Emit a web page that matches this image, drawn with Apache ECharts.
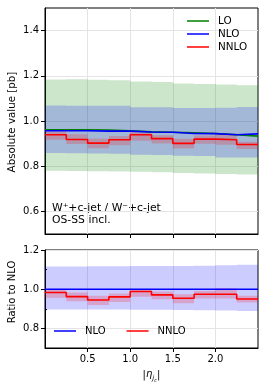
<!DOCTYPE html>
<html>
<head>
<meta charset="utf-8">
<script src="https://cdn.jsdelivr.net/npm/echarts@6/dist/echarts.min.js"></script>
<style>html,body{margin:0;padding:0;background:#fff;}#c{width:265px;height:391px;}</style>
</head>
<body>
<div id="c"></div>
<script>
// ---- data ----
const binEdges = [0, 0.25, 0.5, 0.75, 1.0, 1.25, 1.5, 1.75, 2.0, 2.25, 2.5];
const loCentral = [0.961, 0.961, 0.960, 0.957, 0.952, 0.950, 0.948, 0.945, 0.939, 0.933];
const loUp      = [1.184, 1.185, 1.182, 1.180, 1.175, 1.173, 1.166, 1.164, 1.161, 1.158];
const loDown    = [0.780, 0.779, 0.778, 0.777, 0.775, 0.773, 0.770, 0.768, 0.766, 0.763];
const nloCentral = [0.957, 0.957, 0.955, 0.955, 0.951, 0.950, 0.945, 0.944, 0.939, 0.943];
const nloUp      = [1.069, 1.068, 1.067, 1.067, 1.061, 1.061, 1.058, 1.058, 1.059, 1.062];
const nloDown    = [0.858, 0.857, 0.856, 0.855, 0.851, 0.850, 0.846, 0.845, 0.839, 0.838];
const nnloCentral = [0.939, 0.918, 0.902, 0.917, 0.939, 0.922, 0.901, 0.920, 0.917, 0.896];
const nnloUp      = [0.954, 0.941, 0.923, 0.934, 0.950, 0.937, 0.921, 0.936, 0.945, 0.908];
const nnloDown    = [0.917, 0.898, 0.879, 0.893, 0.913, 0.900, 0.878, 0.899, 0.895, 0.876];
const ratioNLO     = [1, 1, 1, 1, 1, 1, 1, 1, 1, 1];
const ratioNLOUp   = [1.116, 1.116, 1.117, 1.117, 1.118, 1.118, 1.119, 1.120, 1.122, 1.125];
const ratioNLODown = [0.897, 0.897, 0.896, 0.896, 0.895, 0.895, 0.894, 0.893, 0.891, 0.889];
const ratioNNLO     = [0.983, 0.962, 0.945, 0.961, 0.988, 0.971, 0.954, 0.974, 0.974, 0.950];
const ratioNNLOUp   = [0.996, 0.983, 0.966, 0.978, 1.000, 0.988, 0.974, 0.991, 1.005, 0.966];
const ratioNNLODown = [0.957, 0.938, 0.920, 0.935, 0.961, 0.949, 0.928, 0.952, 0.952, 0.932];
const topYTicks = [0.6, 0.8, 1.0, 1.2, 1.4];
const ratioYTicks = [0.8, 1.0, 1.2];
const ratioYMinor = [0.9, 1.1];
const xTicks = [0.5, 1.0, 1.5, 2.0];
const annotation = ['W\u207A+c-jet / W\u207B+c-jet', 'OS-SS incl.'];
const topYTitle = 'Absolute value [pb]';
const ratioYTitle = 'Ratio to NLO';

// ---- helpers ----
const FONT = 'DejaVu Sans';
function stepData(vals) {
  return binEdges.map((x, i) => [x, vals[Math.min(i, vals.length - 1)]]);
}
function band(name, up, lo, color, gridIdx) {
  return {
    name: name, type: 'custom', xAxisIndex: gridIdx, yAxisIndex: gridIdx === 0 ? 0 : 1,
    silent: true, clip: true, data: [0],
    renderItem: function (params, api) {
      const pts = [];
      for (let i = 0; i < up.length; i++) {
        pts.push(api.coord([binEdges[i], up[i]]));
        pts.push(api.coord([binEdges[i + 1], up[i]]));
      }
      for (let i = lo.length - 1; i >= 0; i--) {
        pts.push(api.coord([binEdges[i + 1], lo[i]]));
        pts.push(api.coord([binEdges[i], lo[i]]));
      }
      return { type: 'polygon', shape: { points: pts }, style: { fill: color, opacity: 0.2 } };
    }
  };
}
function line(name, vals, color, gridIdx, w) {
  return { name: name, type: 'line', xAxisIndex: gridIdx, yAxisIndex: gridIdx === 0 ? 0 : 1,
    step: 'end', data: stepData(vals), showSymbol: false, silent: true,
    lineStyle: { width: w || 1.6, color: color }, itemStyle: { color: color } };
}
const axisText = { fontFamily: FONT, fontSize: 10, color: '#000' };
const splitLine = { show: true, lineStyle: { color: '#e4e4e4', width: 1 } };

const chart = echarts.init(document.getElementById('c'), null, { renderer: 'canvas' });
const option = {
  animation: false,
  backgroundColor: '#fff',
  grid: [
    { left: 45, right: 7, top: 8, height: 226, show: true, borderColor: '#000', borderWidth: 1, backgroundColor: 'transparent' },
    { left: 45, right: 7, top: 250, height: 98, show: true, borderColor: '#000', borderWidth: 1, backgroundColor: 'transparent' }
  ],
  xAxis: [
    { type: 'value', gridIndex: 0, min: 0, max: 2.5, interval: 0.5,
      axisLine: { show: true, onZero: false, lineStyle: { color: '#000', width: 1 } },
      axisTick: { show: true, length: 4, customValues: xTicks, lineStyle: { color: '#000' } },
      axisLabel: { show: false, customValues: xTicks },
      splitLine: splitLine },
    { type: 'value', gridIndex: 1, min: 0, max: 2.5, interval: 0.5,
      axisLine: { show: true, onZero: false, lineStyle: { color: '#000', width: 1 } },
      axisTick: { show: true, length: 4, customValues: xTicks, lineStyle: { color: '#000' } },
      axisLabel: Object.assign({ show: true, margin: 6, customValues: xTicks, formatter: v => v.toFixed(1) }, axisText),
      splitLine: splitLine,
      name: '|{e|\u03B7}{j|j}{c|c}|', nameLocation: 'middle', nameGap: 21,
      nameTextStyle: { fontFamily: FONT, fontSize: 10, color: '#000',
        rich: {
          e: { fontFamily: FONT, fontSize: 10, fontStyle: 'italic', verticalAlign: 'top', lineHeight: 12 },
          j: { fontFamily: FONT, fontSize: 7, fontStyle: 'italic', verticalAlign: 'top', lineHeight: 8, padding: [6, 0, 0, 0] },
          c: { fontFamily: FONT, fontSize: 5, fontStyle: 'italic', verticalAlign: 'top', lineHeight: 6, padding: [9, 0, 0, 0] }
        } } }
  ],
  yAxis: [
    { type: 'value', gridIndex: 0, min: 0.5, max: 1.5, interval: 0.1,
      axisLine: { show: true, onZero: false, lineStyle: { color: '#000', width: 1 } },
      axisTick: { show: true, length: 4, customValues: topYTicks, lineStyle: { color: '#000' } },
      axisLabel: Object.assign({ margin: 6, customValues: topYTicks, formatter: v => v.toFixed(1) }, axisText),
      splitLine: splitLine },
    { type: 'value', gridIndex: 1, min: 0.7, max: 1.2, interval: 0.1,
      axisLine: { show: true, onZero: false, lineStyle: { color: '#000', width: 1 } },
      axisTick: { show: true, length: 4, customValues: ratioYTicks, lineStyle: { color: '#000' } },
      axisLabel: Object.assign({ margin: 6, customValues: ratioYTicks, formatter: v => v.toFixed(1) }, axisText),
      splitLine: splitLine },
    { type: 'value', gridIndex: 1, min: 0.7, max: 1.2, interval: 0.1,
      axisLine: { show: false },
      axisTick: { show: true, length: 2, customValues: ratioYMinor, lineStyle: { color: '#000' } },
      axisLabel: { show: false },
      splitLine: { show: false } }
  ],
  legend: [
    { orient: 'vertical', left: 182, top: 11, itemGap: 3, itemWidth: 22, itemHeight: 1.5, icon: 'rect',
      data: ['LO', 'NLO', 'NNLO'], selectedMode: false,
      textStyle: { fontFamily: FONT, fontSize: 10.4, color: '#000', padding: [0, 0, 0, 4] } },
    { orient: 'horizontal', left: 49, top: 321, itemGap: 21, itemWidth: 22, itemHeight: 1.5, icon: 'rect',
      data: ['NLO', 'NNLO'], selectedMode: false,
      textStyle: { fontFamily: FONT, fontSize: 10, color: '#000', padding: [0, 0, 0, 4] } }
  ],
  graphic: [
    { type: 'text', left: 52, top: 202, silent: true,
      style: { text: annotation.join('\n'), fontFamily: FONT, fontSize: 10.8, fill: '#000', lineHeight: 12 } },
    { type: 'text', x: 12, y: 122, rotation: Math.PI / 2, silent: true,
      style: { text: topYTitle, fontFamily: FONT, fontSize: 10.3, fill: '#000', align: 'center', verticalAlign: 'middle' } },
    { type: 'text', x: 12, y: 292, rotation: Math.PI / 2, silent: true,
      style: { text: ratioYTitle, fontFamily: FONT, fontSize: 10, fill: '#000', align: 'center', verticalAlign: 'middle' } }
  ],
  series: [
    band('LO band', loUp, loDown, '#008000', 0),
    band('NLO band', nloUp, nloDown, '#0000ff', 0),
    band('NNLO band', nnloUp, nnloDown, '#ff0000', 0),
    line('LO', loCentral, '#008000', 0),
    line('NLO', nloCentral, '#0000ff', 0),
    line('NNLO', nnloCentral, '#ff0000', 0),
    band('rNLO band', ratioNLOUp, ratioNLODown, '#0000ff', 1),
    band('rNNLO band', ratioNNLOUp, ratioNNLODown, '#ff0000', 1),
    line('NLO', ratioNLO, '#0000ff', 1),
    line('NNLO', ratioNNLO, '#ff0000', 1)
  ]
};
chart.setOption(option);
</script>
</body>
</html>
